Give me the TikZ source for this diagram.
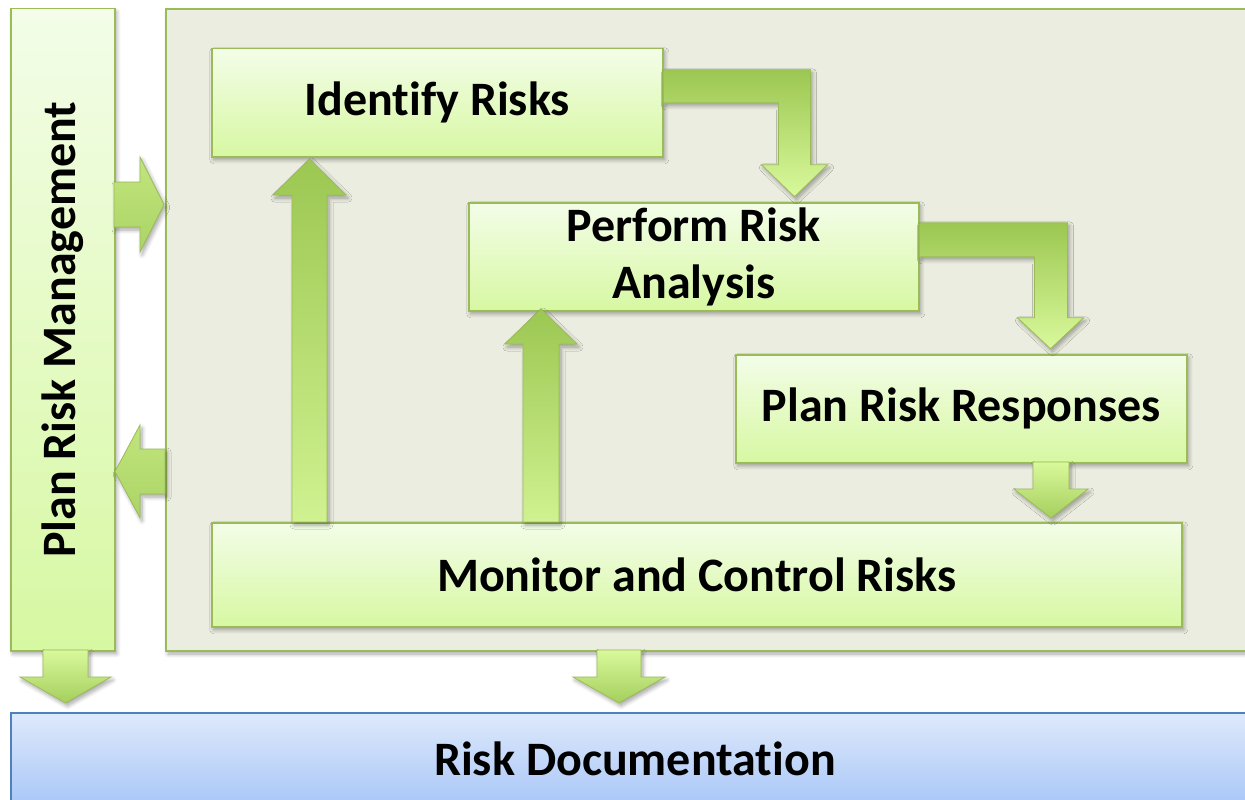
\documentclass[tikz,border=0pt]{standalone}
\usepackage{fontspec}
\setmainfont{Carlito}[Ligatures=NoCommon]
\usetikzlibrary{calc,shadows.blur}

\definecolor{leafline}{HTML}{9BBB59}
\definecolor{leaftop}{HTML}{F3FDE8}
\definecolor{leafbot}{HTML}{D7F8A2}
\definecolor{leafdark}{HTML}{9CC752}
\definecolor{leaflight}{HTML}{D9F99B}
\definecolor{panelfill}{HTML}{EBEDE0}
\definecolor{skyline}{HTML}{4F81BD}
\definecolor{skytop}{HTML}{DEE9FB}
\definecolor{skybot}{HTML}{A9C7F8}

\tikzset{
  softshadow/.style={blur shadow={shadow xshift=2pt, shadow yshift=-3pt,
      shadow blur radius=4pt, shadow blur steps=6, shadow opacity=35}},
  boxtext/.style={font=\fontsize{48}{57}\selectfont\bfseries, align=center},
  procbox/.style={draw=leafline, line width=1.5pt, top color=leaftop,
      bottom color=leafbot, anchor=north west, inner sep=0pt, boxtext, softshadow},
  flowarrow/.style={draw=leafline, line width=0.8pt, softshadow},
  bentarrow/.style={flowarrow, top color=leafdark, bottom color=leaflight},
  riseup/.style={flowarrow, top color=leafdark, bottom color=leaflight!85!leafdark},
  dropdown/.style={flowarrow, top color=leaflight, bottom color=leafdark!85!leaflight},
  sidearrow/.style={flowarrow, top color=leaflight!60!leafdark, bottom color=leafdark!75!leaflight}
}

% straight block arrows: style, start (middle of shaft base), shaft length,
% shaft half width, head half width, head length (negative = up / left)
\newcommand{\vblock}[6]{%
  \draw[#1] ($(#2)+(-#4,0)$) -- ++(0,#3) -- ++({#4-#5},0) -- ++(#5,#6)
    -- ++(#5,{-(#6)}) -- ++({#4-#5},0) -- ++(0,{-(#3)}) -- cycle;}
\newcommand{\hblock}[6]{%
  \draw[#1] ($(#2)+(0,-#4)$) -- ++(#3,0) -- ++(0,{#4-#5}) -- ++(#6,#5)
    -- ++({-(#6)},#5) -- ++(0,{#4-#5}) -- ++({-(#3)},0) -- cycle;}

\begin{document}
\begin{tikzpicture}[x=1pt, y=-1pt]
  \useasboundingbox (0,0) rectangle (1245,800);
  \clip (0,0) rectangle (1245,800);

  \node[draw=leafline, line width=2pt, fill=panelfill, anchor=north west,
        minimum width=1100pt, minimum height=642pt, softshadow] (panel) at (165,8) {};
  \node[procbox, minimum width=104pt, minimum height=642pt,
        label={[boxtext, rotate=90]center:Plan Risk Management}] (prm) at (10,8) {};

  \node[procbox, minimum width=451pt, minimum height=108pt] (ident) at (211,48) {Identify Risks};
  \node[procbox, minimum width=450pt, minimum height=108pt] (pra) at (468,202) {Perform Risk\\Analysis};
  \node[procbox, minimum width=451pt, minimum height=108pt] (prr) at (735,354) {Plan Risk Responses};
  \node[procbox, minimum width=970pt, minimum height=104pt] (mcr) at (211,522) {Monitor and Control Risks};
  \node[draw=skyline, line width=2pt, top color=skytop, bottom color=skybot, anchor=north west,
        minimum width=1248pt, minimum height=92pt, boxtext] (rd) at (10,712) {Risk Documentation};

  % bent arrows down the chain
  \draw[bentarrow] (ident.east) -- ++(0,-33) -- ++(147,0) -- ++(0,95) -- ++(17,0)
    -- ++(-33,32) -- ++(-33,-32) -- ++(17,0) -- ++(0,-62) -- cycle;
  \draw[bentarrow] (pra.east) -- ++(0,-34) -- ++(148,0) -- ++(0,95) -- ++(16,0)
    -- ++(-33,31) -- ++(-33,-31) -- ++(17,0) -- ++(0,-61) -- cycle;

  \coordinate (upA) at (309.5,522);
  \coordinate (upB) at (541,522);
  \coordinate (dnA) at (1051,462);
  \coordinate (dnB) at (65.5,650);
  \coordinate (dnC) at (619,650);
  \coordinate (rtA) at (114,204.5);
  \coordinate (ltA) at (165,471.5);

  \vblock{riseup}{upA}{-327}{17.5}{36.5}{-36}
  \vblock{riseup}{upB}{-178}{18}{36}{-35}
  \vblock{dropdown}{dnA}{27}{18}{37}{29}
  \vblock{dropdown}{dnB}{27}{22.5}{45.5}{26}
  \vblock{dropdown}{dnC}{27}{22}{46}{26}
  \hblock{sidearrow}{rtA}{26}{22.5}{47.5}{24}
  \hblock{sidearrow}{ltA}{-25}{22.5}{46.5}{-25}
\end{tikzpicture}
\end{document}
